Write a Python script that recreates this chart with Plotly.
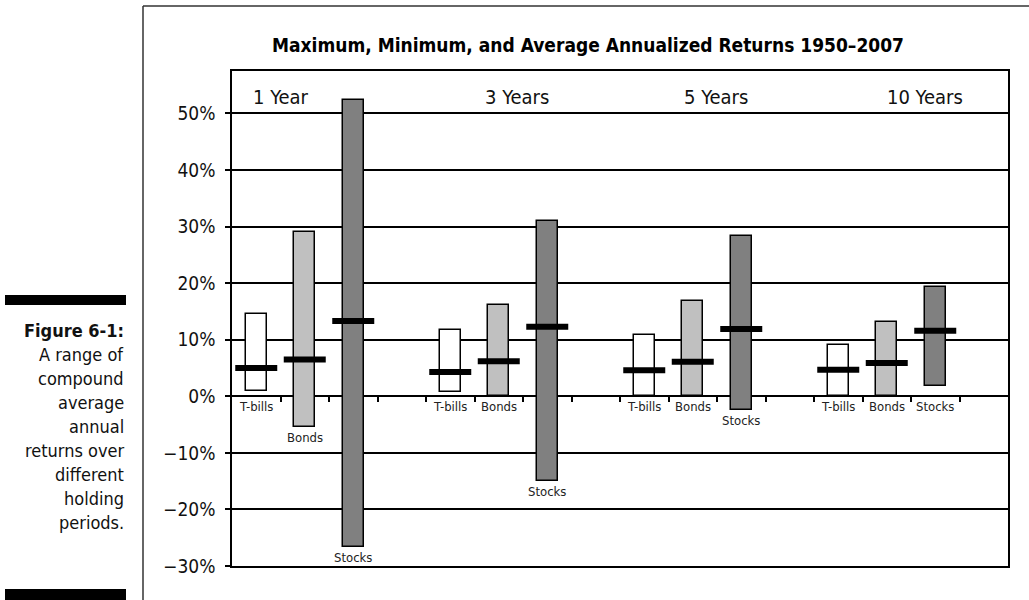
import plotly.graph_objects as go

# Holding periods and asset classes
periods = ["1 Year", "3 Years", "5 Years", "10 Years"]
assets = ["T-bills", "Bonds", "Stocks"]

# Annualized returns (%) per period, ordered T-bills, Bonds, Stocks
max_returns = {
    "1 Year": [14.5, 29.0, 52.3],
    "3 Years": [11.8, 16.2, 31.0],
    "5 Years": [10.8, 16.9, 28.3],
    "10 Years": [9.1, 13.1, 19.3],
}
min_returns = {
    "1 Year": [0.9, -5.5, -26.6],
    "3 Years": [0.7, 0.0, -15.0],
    "5 Years": [0.0, 0.0, -2.4],
    "10 Years": [0.0, 0.0, 1.9],
}
avg_returns = {
    "1 Year": [5.0, 6.5, 13.3],
    "3 Years": [4.3, 6.2, 12.3],
    "5 Years": [4.6, 6.1, 11.9],
    "10 Years": [4.7, 5.9, 11.6],
}

y_ticks = [-30, -20, -10, 0, 10, 20, 30, 40, 50]
y_tick_text = ["\u221230%", "\u221220%", "\u221210%", "0%", "10%", "20%", "30%", "40%", "50%"]

fill = {"T-bills": "#ffffff", "Bonds": "#c0c0c0", "Stocks": "#808080"}

FONT = "DejaVu Sans Condensed, Liberation Sans Narrow, Arial Narrow, sans-serif"
W, H = 1029, 600


def px(x):
    return x / W


def py(y):
    return 1 - y / H


# Slot positions: three assets per period, with an empty slot between periods
xs, bases, heights, colors, avgs, labels = [], [], [], [], [], []
slot = 0
for p in periods:
    for i, a in enumerate(assets):
        xs.append(slot)
        bases.append(min_returns[p][i])
        heights.append(max_returns[p][i] - min_returns[p][i])
        colors.append(fill[a])
        avgs.append(avg_returns[p][i])
        labels.append(a)
        slot += 1
    slot += 1
n_slots = slot - 1

fig = go.Figure()

fig.add_trace(go.Bar(
    x=xs, y=heights, base=bases, width=0.435,
    marker=dict(color=colors, line=dict(color="#000000", width=1.5)),
    hoverinfo="skip", showlegend=False,
))

fig.add_trace(go.Scatter(
    x=xs, y=avgs, mode="markers",
    marker=dict(symbol="line-ew", size=30, line=dict(color="#000000", width=6)),
    hoverinfo="skip", showlegend=False,
))

# Asset labels under each bar (below the zero line or the bar's bottom)
for x, b, lab in zip(xs, bases, labels):
    fig.add_annotation(
        x=x, y=min(b, 0), xref="x", yref="y", text=lab, showarrow=False,
        xanchor="center", yanchor="top", yshift=-1,
        font=dict(family=FONT, size=13, color="#222"),
    )

y_lo, y_hi = -30, 57.5
dom_y = [py(566), py(71)]
zero_pos = dom_y[0] + (0 - y_lo) / (y_hi - y_lo) * (dom_y[1] - dom_y[0])

fig.update_layout(
    template="none",
    width=W, height=H, autosize=False,
    margin=dict(l=0, r=0, t=0, b=0, pad=0),
    paper_bgcolor="white", plot_bgcolor="white",
    bargap=0,
    xaxis=dict(
        domain=[px(232), px(1008)], range=[-0.5, n_slots + 0.5],
        automargin=False,
        showgrid=False, zeroline=False, showticklabels=False, ticks="",
        showline=True, linecolor="#000", linewidth=1.5, mirror=True,
    ),
    xaxis2=dict(
        overlaying="x", anchor="free", position=zero_pos,
        range=[-0.5, n_slots + 0.5], automargin=False,
        tickvals=[i + 0.5 for i in range(n_slots)],
        ticks="outside", ticklen=5, tickwidth=1.5, tickcolor="#000",
        showticklabels=False, showgrid=False, zeroline=False, showline=False,
    ),
    yaxis=dict(
        domain=dom_y, range=[y_lo, y_hi], automargin=False,
        tickvals=y_ticks, ticktext=y_tick_text,
        ticks="outside", ticklen=5, tickwidth=1.5, tickcolor="#000",
        ticklabelstandoff=6,
        tickfont=dict(family=FONT, size=19, color="#111"),
        showgrid=True, gridcolor="#000", gridwidth=1.5,
        zeroline=True, zerolinecolor="#000", zerolinewidth=1.5,
        showline=True, linecolor="#000", linewidth=1.5, mirror=True,
    ),
    font=dict(family=FONT),
    showlegend=False,
)

# A transparent point so the overlaid tick axis is rendered
fig.add_trace(go.Scatter(x=[0], y=[0], xaxis="x2", mode="markers",
                         marker=dict(opacity=0), hoverinfo="skip", showlegend=False))

# Chart title
fig.add_annotation(
    x=px(588), y=py(45), xref="paper", yref="paper", showarrow=False,
    xanchor="center", yanchor="middle",
    text="<b>Maximum, Minimum, and Average Annualized Returns 1950\u20132007</b>",
    font=dict(family=FONT, size=19, color="#000"),
)

# Period headings inside the plot
for label, cx in zip(periods, [281, 517, 716, 925]):
    fig.add_annotation(
        x=px(cx), y=py(97), xref="paper", yref="paper", showarrow=False,
        xanchor="center", yanchor="middle",
        text=label, font=dict(family=FONT, size=20, color="#111"),
    )

# Outer frame around the figure
fig.add_shape(type="line", xref="paper", yref="paper",
              x0=px(143), x1=1, y0=py(6), y1=py(6), line=dict(color="#333", width=1.5))
fig.add_shape(type="line", xref="paper", yref="paper",
              x0=px(143), x1=px(143), y0=py(6), y1=0, line=dict(color="#333", width=1.5))

# Caption bars and text
fig.add_shape(type="rect", xref="paper", yref="paper",
              x0=px(5), x1=px(126), y0=py(295), y1=py(305),
              fillcolor="#000", line=dict(width=0))
fig.add_shape(type="rect", xref="paper", yref="paper",
              x0=px(5), x1=px(126), y0=py(589), y1=py(600),
              fillcolor="#000", line=dict(width=0))

caption = ["<b>Figure 6-1:</b>", "A range of", "compound", "average", "annual",
           "returns over", "different", "holding", "periods."]
for i, line in enumerate(caption):
    fig.add_annotation(
        x=px(126), y=py(330 + 24 * i), xref="paper", yref="paper", showarrow=False,
        xanchor="right", yanchor="middle", text=line,
        font=dict(family=FONT, size=18, color="#111"),
    )

fig.write_html("out.html")
